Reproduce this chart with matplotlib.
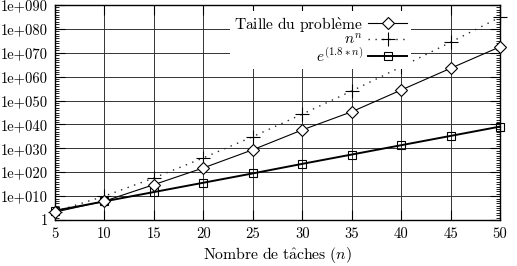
import numpy as np
import matplotlib
matplotlib.use("Agg")
import matplotlib.pyplot as plt
from matplotlib.ticker import FixedLocator, FixedFormatter, NullFormatter

# ---- data (exponents of 10) ----
n_values = [5, 10, 15, 20, 25, 30, 35, 40, 45, 50]
taille_exp = [3.3, 7.9, 14.8, 21.8, 29.4, 37.7, 45.3, 54.4, 63.5, 72.5]
nn_exp = [3.5, 10.0, 17.6, 26.0, 34.9, 44.3, 54.0, 64.1, 74.4, 84.9]
e18_exp = [3.9, 7.8, 11.7, 15.6, 19.5, 23.5, 27.4, 31.3, 35.2, 39.1]

x_ticks = [5, 10, 15, 20, 25, 30, 35, 40, 45, 50]
y_tick_exps = [0, 10, 20, 30, 40, 50, 60, 70, 80, 90]
y_tick_labels = ["1", "1e+010", "1e+020", "1e+030", "1e+040", "1e+050",
                 "1e+060", "1e+070", "1e+080", "1e+090"]
labels = [r"$\mathrm{Taille\ du\ probl\grave{e}me}$", r"$n^n$", r"$e^{(1.8*n)}$"]
xlabel = r"$\mathrm{Nombre\ de\ t\hat{a}ches}\ (n)$"

plt.rcParams["font.family"] = ["cmr10", "DejaVu Serif"]
plt.rcParams["mathtext.fontset"] = "cm"
plt.rcParams["axes.formatter.use_mathtext"] = True
plt.rcParams["font.size"] = 10.5

fig = plt.figure(figsize=(5.17, 2.66), dpi=100)
ax = fig.add_axes([55/517, 1-220/266, 445/517, 215/266])

t = [10.0**e for e in taille_exp]
nn = [10.0**e for e in nn_exp]
ee = [10.0**e for e in e18_exp]

ax.plot(n_values, t, color="black", lw=0.8, marker="D", ms=5.8,
        mfc="white", mec="black", mew=0.8, label=labels[0], zorder=4,
        clip_on=False)
ax.plot(n_values, nn, color="0.15", lw=1.0, ls=(0, (1, 4)), marker="+",
        ms=10, mew=0.8, mec="black", label=labels[1], zorder=3,
        clip_on=False)
ax.plot(n_values, ee, color="black", lw=1.4, marker="s", ms=6,
        mfc="none", mec="black", mew=0.8, label=labels[2], zorder=3,
        clip_on=False)

ax.set_yscale("log")
ax.set_xlim(5, 50)
ax.set_ylim(1, 1e90)
ax.xaxis.set_major_locator(FixedLocator(x_ticks))
ax.set_xticklabels([str(v) for v in x_ticks])
ax.yaxis.set_major_locator(FixedLocator([10.0**e for e in y_tick_exps]))
ax.yaxis.set_major_formatter(FixedFormatter(y_tick_labels))
ax.yaxis.set_minor_locator(FixedLocator([10.0**k for k in range(0, 91) if k % 10]))
ax.yaxis.set_minor_formatter(NullFormatter())
ax.xaxis.set_minor_locator(FixedLocator([]))

ax.tick_params(which="major", direction="in", length=7, width=0.8,
               top=True, right=True, pad=5)
ax.tick_params(which="minor", direction="in", length=3, width=0.6,
               left=True, right=True)
ax.grid(True, which="major", color="0.2", lw=0.7)
for s in ax.spines.values():
    s.set_linewidth(1.0)

ax.set_xlabel(xlabel, labelpad=3, fontsize=11.3)

leg = ax.legend(loc="upper right", bbox_to_anchor=((411-55)/445, 1 - 6/215),
                markerfirst=False, frameon=True, fancybox=False,
                edgecolor="none", facecolor="white", framealpha=1,
                borderaxespad=0, borderpad=0.25, labelspacing=-0.08,
                handlelength=2.5, handletextpad=0.35, fontsize=11.2)
leg.set_zorder(5)

fig.savefig("out.png", dpi=100)
